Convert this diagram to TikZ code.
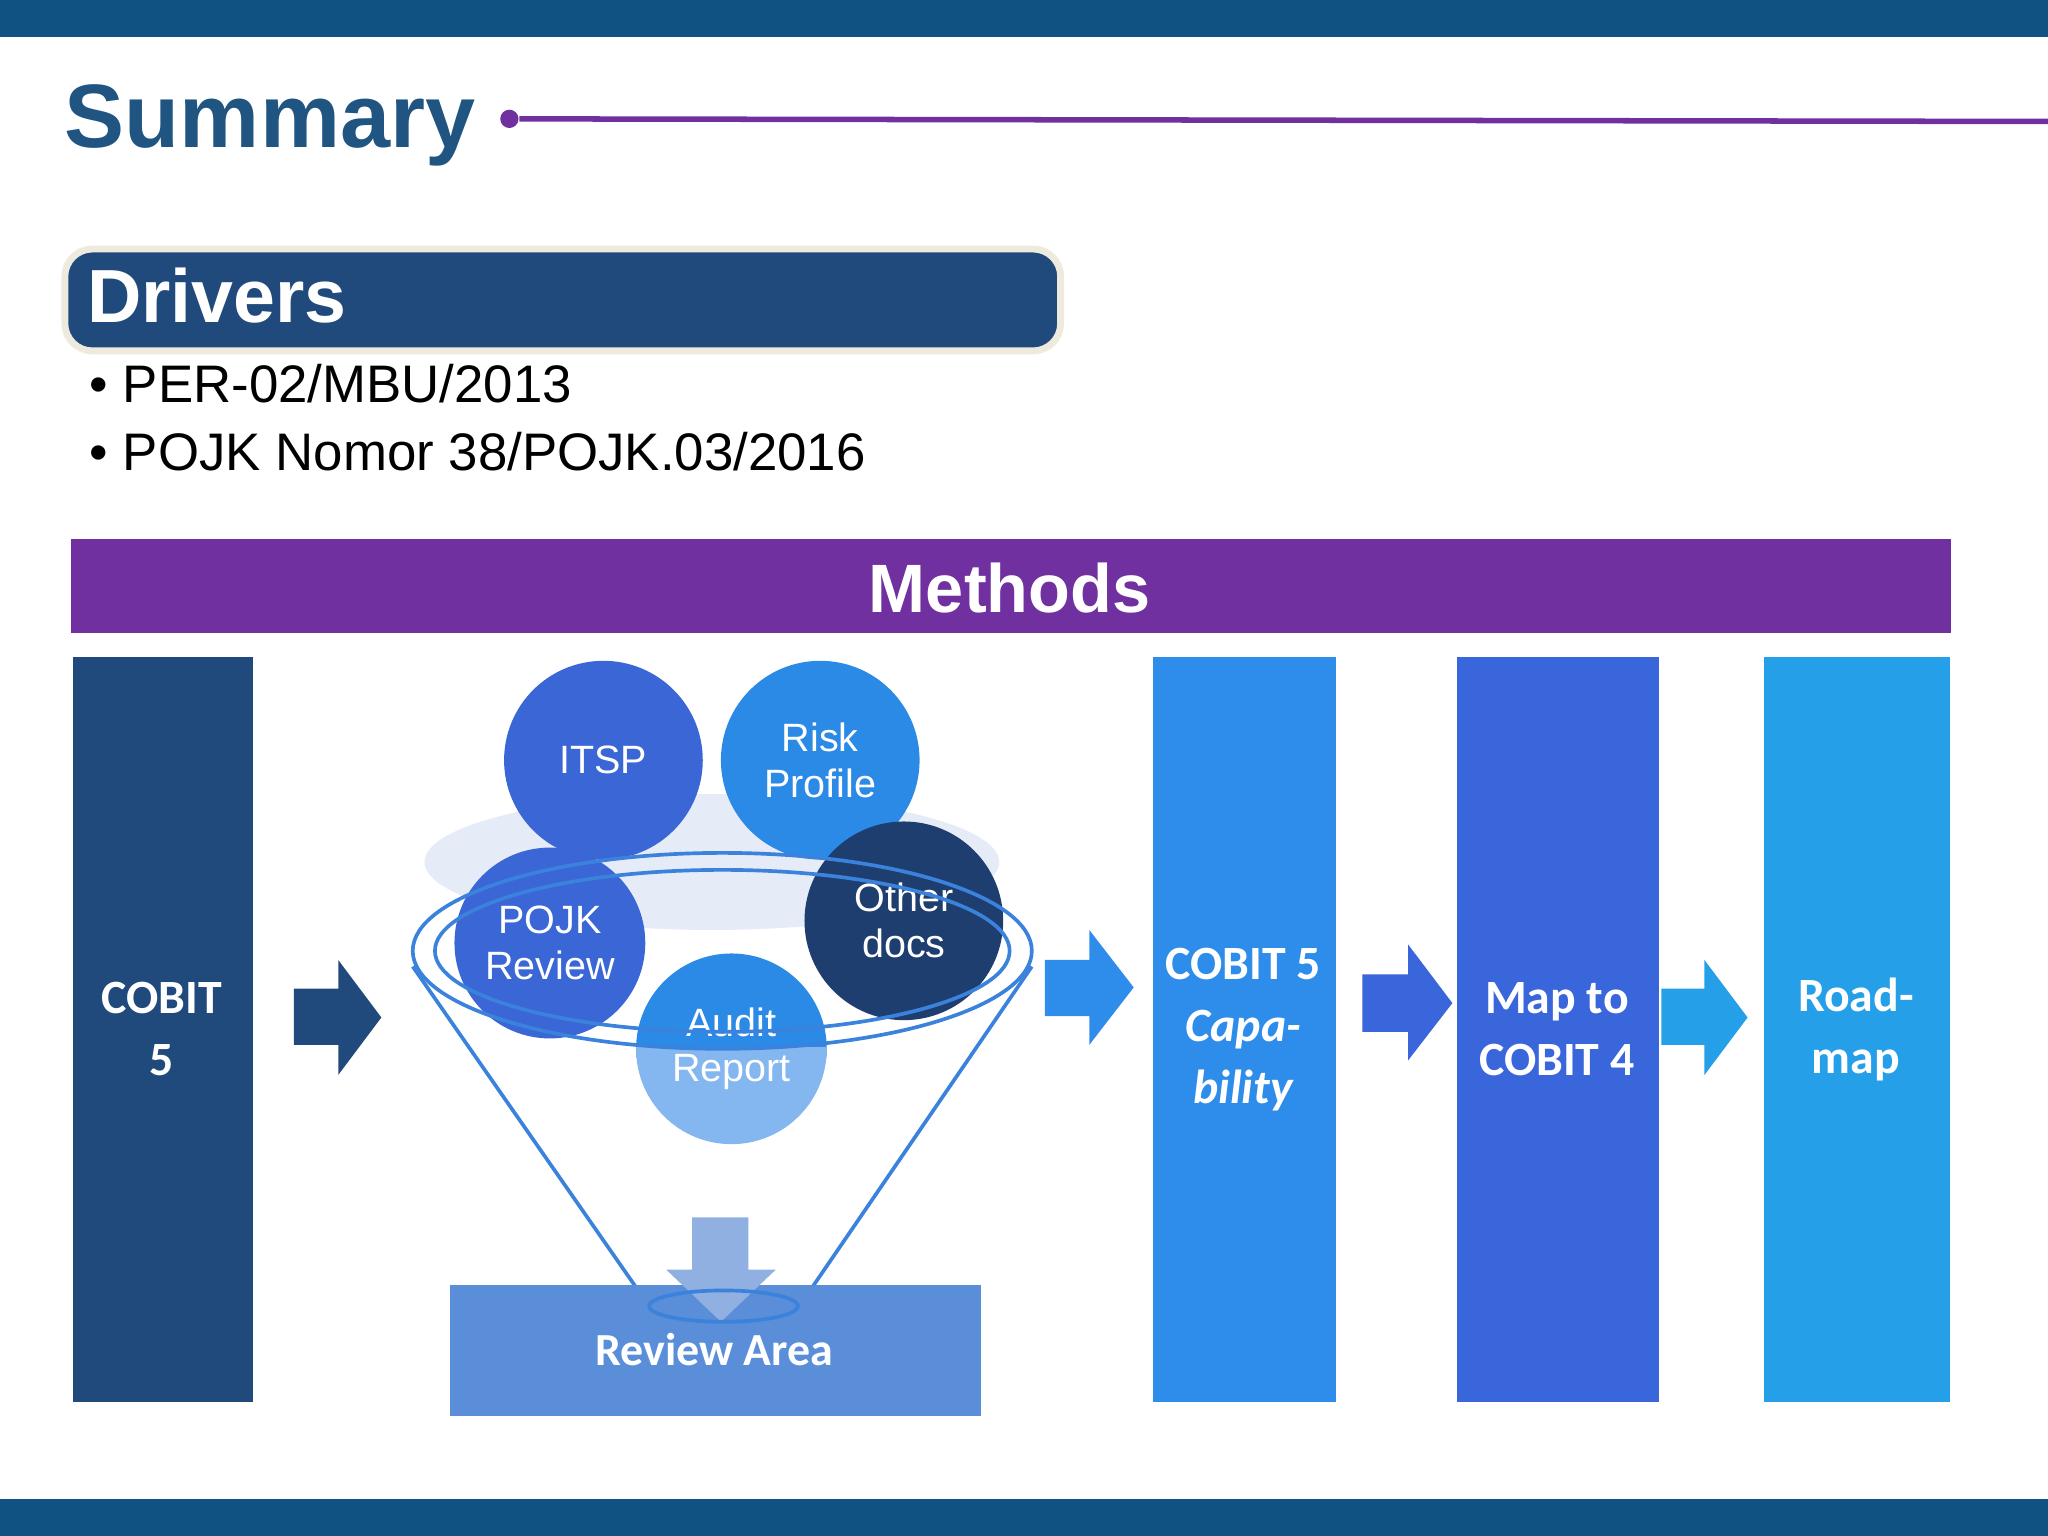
\documentclass[tikz,border=0pt]{standalone}
\usepackage{fontspec}
\setmainfont{Liberation Sans}
\newfontfamily\carl{Carlito}
\definecolor{topbar}{RGB}{16,82,130}
\definecolor{sumc}{RGB}{31,85,128}
\definecolor{purp}{RGB}{112,48,160}
\definecolor{navy}{RGB}{33,74,124}
\definecolor{beige}{RGB}{238,234,222}
\definecolor{bl1}{RGB}{46,141,234}
\definecolor{bl2}{RGB}{58,102,220}
\definecolor{bl3}{RGB}{37,160,232}
\definecolor{itspc}{RGB}{58,102,214}
\definecolor{riskc}{RGB}{43,138,230}
\definecolor{otherc}{RGB}{31,62,112}
\definecolor{auditl}{RGB}{132,182,240}
\definecolor{haze}{RGB}{230,235,248}
\definecolor{fline}{RGB}{58,130,220}
\definecolor{revc}{RGB}{90,142,216}
\definecolor{darr}{RGB}{143,176,224}
\begin{document}
\begin{tikzpicture}[x=0.01cm,y=-0.01cm,
  col/.style={draw=none,anchor=north west,inner sep=0},
  ctext/.style={text=white,align=center,font=\carl\bfseries\fontsize{10.4}{13.5}\selectfont},
  circ/.style={circle,minimum size=#1*0.02cm,inner sep=0,text=white,align=center,font=\fontsize{8.6}{10}\selectfont},
  fl/.style={fline,line width=0.8pt}]
\useasboundingbox (0,0) rectangle (1568,1176);
\fill[topbar] (0,0) rectangle (1568,28);
\fill[topbar] (0,1148) rectangle (1568,1176);
\node[anchor=west,inner sep=0,text=sumc,font=\bfseries\fontsize{19.6}{22}\selectfont] (sum) at (49,96) {Summary};
\coordinate (le) at (1568,93);
\node[circle,fill=purp,minimum size=0.14cm,inner sep=0] (dot) at (390,91) {};
\draw[line width=1.2pt,purp] (dot) -- (le);
\node[draw=beige,line width=1.5pt,fill=navy,rounded corners=6pt,minimum width=7.62cm,minimum height=0.78cm,anchor=north west,inner sep=0] (drv) at (47,188) {};
\node[anchor=west,text=white,font=\bfseries\fontsize{16.4}{19}\selectfont,inner sep=0] (drvt) at (66,226) {Drivers};
\node[anchor=west,inner sep=0,font=\fontsize{11.5}{14}\selectfont] (b1) at (68,294) {\textbullet\ PER-02/MBU/2013};
\node[anchor=west,inner sep=0,font=\fontsize{11.5}{14}\selectfont] (b2) at (68,346) {\textbullet\ POJK Nomor 38/POJK.03/2016};
\node[fill=purp,minimum width=14.38cm,minimum height=0.72cm,anchor=north west,inner sep=0] (meth) at (54,412) {};
\node[text=white,font=\bfseries\fontsize{14.9}{18}\selectfont] (metht) at (773,450) {Methods};
% columns
\node[col,fill=navy,minimum width=1.38cm,minimum height=5.7cm] (c1) at (55,502) {};
\node[ctext] (c1t) at (124,788) {COBIT\\5};
\node[col,fill=bl1,minimum width=1.4cm,minimum height=5.7cm] (c2) at (882,502) {};
\node[ctext] (c2t) at (952,788) {COBIT 5\\\textit{Capa-}\\\textit{bility}};
\node[col,fill=bl2,minimum width=1.54cm,minimum height=5.7cm] (c3) at (1115,502) {};
\node[ctext] (c3t) at (1192,788) {Map to\\COBIT 4};
\node[col,fill=bl3,minimum width=1.42cm,minimum height=5.7cm] (c4) at (1350,502) {};
\node[ctext] (c4t) at (1421,788) {Road-\\map};
% arrows
\fill[navy] (225,757) -- (259,757) -- (259,735) -- (292,779) -- (259,823) -- (259,800) -- (225,800) -- cycle;
\fill[bl1] (800,735) -- (834,735) -- (834,712) -- (868,756) -- (834,800) -- (834,778) -- (800,778) -- cycle;
\fill[bl2] (1043,746) -- (1078,746) -- (1078,723) -- (1112,768) -- (1078,812) -- (1078,790) -- (1043,790) -- cycle;
\fill[bl3] (1272,757) -- (1305,757) -- (1305,735) -- (1338,779) -- (1305,823) -- (1305,800) -- (1272,800) -- cycle;
% funnel
\fill[haze] (545,660) ellipse (220 and 52);
\node[circ=76,fill=itspc] (itsp) at (462,582) {ITSP};
\node[circ=76,fill=riskc] (risk) at (628,582) {Risk\\Profile};
\node[circ=73,fill=itspc] (pojk) at (421,722) {POJK\\Review};
\node[circ=76,fill=otherc] (other) at (692,705) {Other\\docs};
\begin{scope}
\clip (480,700) rectangle (650,810);
\fill[riskc] (560,803) circle (73);
\end{scope}
\begin{scope}
\clip (480,802) rectangle (650,880);
\fill[auditl] (560,803) circle (73);
\end{scope}
\node[circ=73] (audit) at (560,803) {Audit\\Report};
\draw[fl] (553,728) ellipse (237 and 75);
\draw[fl] (553,728) ellipse (220 and 62);
\coordinate (fL) at (316,740); \coordinate (fR) at (790,740);
\coordinate (bL) at (497,1000); \coordinate (bR) at (612,1000);
\draw[fl] (fL) -- (bL) (fR) -- (bR);
\node[fill=revc,minimum width=4.06cm,minimum height=1cm,anchor=north west,inner sep=0] (rev) at (344,983) {};
\fill[darr] (530,932) -- (573,932) -- (573,972) -- (594,972) -- (552,1012) -- (510,972) -- (530,972) -- cycle;
\draw[fl] (554,1000) ellipse (57 and 12);
\node[text=white,font=\carl\bfseries\fontsize{10}{12}\selectfont] (revt) at (547,1033) {Review Area};
\end{tikzpicture}
\end{document}
